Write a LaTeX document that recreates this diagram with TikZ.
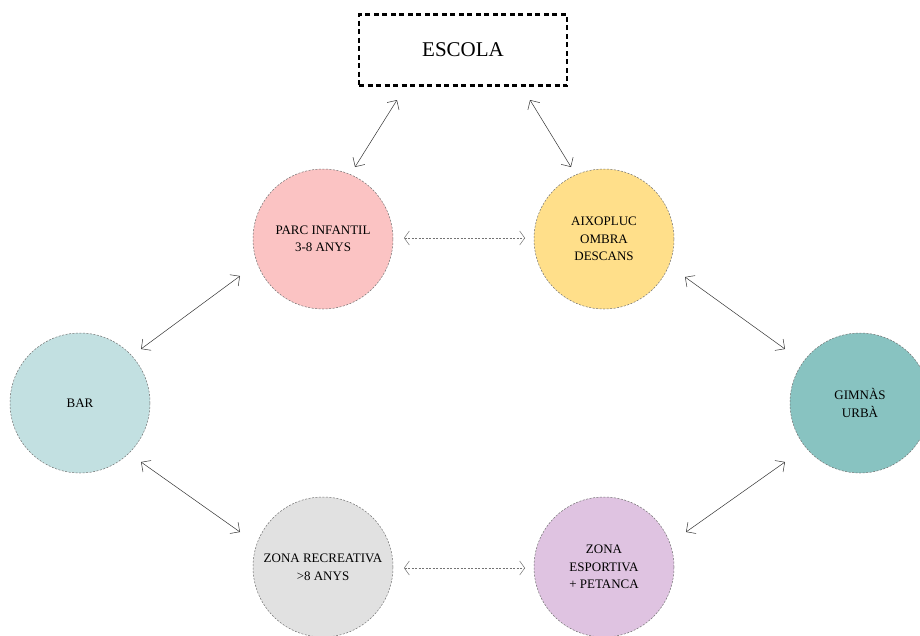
\documentclass[tikz,border=0pt]{standalone}
\usepackage{fontspec}
\setmainfont{Liberation Serif}
\usetikzlibrary{arrows.meta}
\definecolor{cpink}{HTML}{FBC3C3}
\definecolor{cyellow}{HTML}{FFDF8A}
\definecolor{cbar}{HTML}{C2E0E1}
\definecolor{cgym}{HTML}{88C3C1}
\definecolor{cgray}{HTML}{E1E1E1}
\definecolor{clav}{HTML}{DFC3E1}
\tikzset{
  zone/.style={circle, draw=black!55, dashed, dash pattern=on 2pt off 1.5pt, line width=0.5pt,
    minimum size=140pt, inner sep=0pt, align=center, font=\fontsize{13}{17.5}\selectfont, text=black},
  link/.style={{Straight Barb[length=7pt,width=14pt]}-{Straight Barb[length=7pt,width=14pt]}, line width=0.5pt, draw=black!80},
  softlink/.style={{Straight Barb[length=5pt,width=14pt]}-{Straight Barb[length=5pt,width=14pt]}, line width=0.5pt, draw=black!55, dash pattern=on 2pt off 1.5pt},
}
\begin{document}
\begin{tikzpicture}[x=1pt,y=-1pt]
\useasboundingbox (0,0) rectangle (920,635);
\node[draw, line width=2.5pt, dash pattern=on 5pt off 3.5pt, minimum width=208pt, minimum height=71pt, font=\fontsize{21}{25}\selectfont] (escola) at (463,50) {ESCOLA};
\node[zone, fill=cpink] (parc) at (323,239) {PARC INFANTIL\\3-8 ANYS};
\node[zone, fill=cyellow] (aix) at (604,239) {AIXOPLUC\\OMBRA\\DESCANS};
\node[zone, fill=cbar] (bar) at (80,403) {BAR};
\node[zone, fill=cgym] (gym) at (860,403) {GIMNÀS\\URBÀ};
\node[zone, fill=cgray] (rec) at (323,567) {ZONA RECREATIVA\\>8 ANYS};
\node[zone, fill=clav] (esp) at (604,567) {ZONA\\ESPORTIVA\\+ PETANCA};
\coordinate (e1) at (397,100); \coordinate (p1) at (355,167);
\coordinate (e2) at (530,100); \coordinate (a1) at (571,167);
\draw[link] (e1) -- (p1);
\draw[link] (e2) -- (a1);
\coordinate (b1) at (141,349); \coordinate (p2) at (240,276);
\coordinate (b2) at (141,462); \coordinate (r1) at (240,532);
\coordinate (a2) at (685,277); \coordinate (g1) at (785,349);
\coordinate (s1) at (686,532); \coordinate (g2) at (785,462);
\draw[link] (b1) -- (p2);
\draw[link] (b2) -- (r1);
\draw[link] (a2) -- (g1);
\draw[link] (s1) -- (g2);
\coordinate (d1) at (404,238); \coordinate (d2) at (525,238);
\coordinate (d3) at (404,568); \coordinate (d4) at (525,568);
\draw[softlink] (d1) -- (d2);
\draw[softlink] (d3) -- (d4);
\end{tikzpicture}
\end{document}
